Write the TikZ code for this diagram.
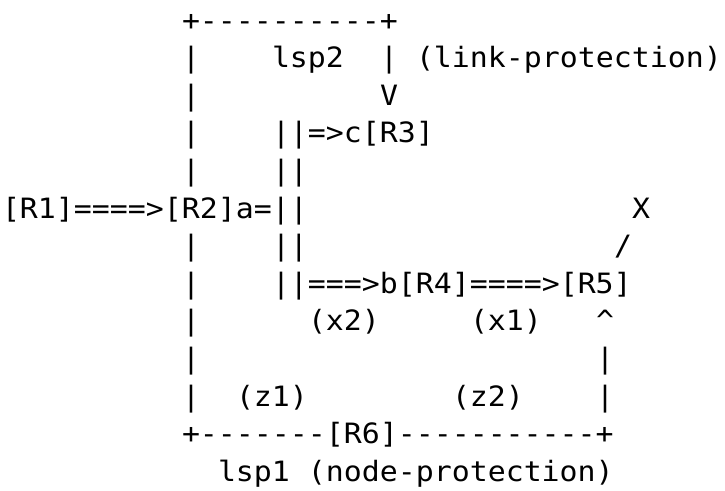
\documentclass[tikz,border=0pt]{standalone}
\usepackage{fontspec}
\newfontfamily\asciimono[Ligatures=TeXOff,FakeStretch=1.067]{DejaVu Sans Mono}
\tikzset{
  txt/.style={anchor=base west, inner sep=0pt, outer sep=0pt, font=\asciimono\fontsize{28pt}{30pt}\selectfont, text=black}
}
\begin{document}
\begin{tikzpicture}
\useasboundingbox[fill=white] (0,0) rectangle (725pt,-490pt);
\begin{scope}[shift={(2pt,-30pt)}, x=18.0pt, y=-37.6pt]
% line 1
\node[txt] (l1) at (10,0) {+----------+};
% line 2
\node[txt] (l2a) at (10,1) {|};
\node[txt] (lsp2) at (15,1) {lsp2};
\node[txt] (l2b) at (21,1) {|};
\node[txt] (linkprot) at (23,1) {(link-protection)};
% line 3
\node[txt] (l3a) at (10,2) {|};
\node[txt] (l3v) at (21,2) {V};
% line 4
\node[txt] (l4a) at (10,3) {|};
\node[txt] (r3) at (15,3) {||=>c[R3]};
% line 5
\node[txt] (l5a) at (10,4) {|};
\node[txt] (l5b) at (15,4) {||};
% line 6
\node[txt] (r1r2) at (0,5) {[R1]====>[R2]a=||};
\node[txt] (x) at (35,5) {X};
% line 7
\node[txt] (l7a) at (10,6) {|};
\node[txt] (l7b) at (15,6) {||};
\node[txt] (l7s) at (34,6) {/};
% line 8
\node[txt] (l8a) at (10,7) {|};
\node[txt] (r4r5) at (15,7) {||===>b[R4]====>[R5]};
% line 9
\node[txt] (l9a) at (10,8) {|};
\node[txt] (x2) at (17,8) {(x2)};
\node[txt] (x1) at (26,8) {(x1)};
\node[txt] (l9c) at (33,8) {\textasciicircum};
% line 10
\node[txt] (l10a) at (10,9) {|};
\node[txt] (l10b) at (33,9) {|};
% line 11
\node[txt] (l11a) at (10,10) {|};
\node[txt] (z1) at (13,10) {(z1)};
\node[txt] (z2) at (25,10) {(z2)};
\node[txt] (l11b) at (33,10) {|};
% line 12
\node[txt] (r6) at (10,11) {+-------[R6]-----------+};
% line 13
\node[txt] (lsp1) at (12,12) {lsp1 (node-protection)};
\end{scope}
\end{tikzpicture}
\end{document}
